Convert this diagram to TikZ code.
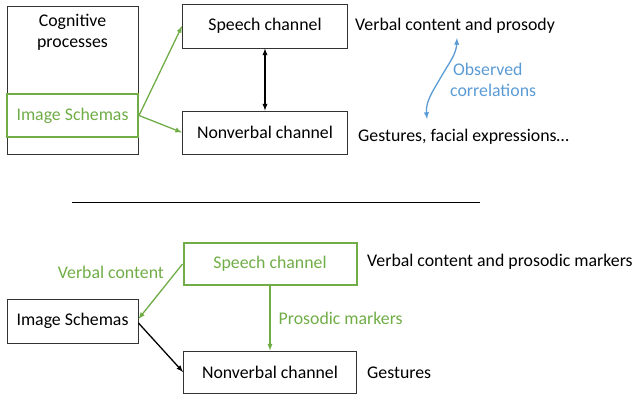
\documentclass[tikz,border=0pt]{standalone}
\usepackage{fontspec}
\setmainfont{Carlito}
\usepackage{tikz}
\tikzset{>=latex}
\usetikzlibrary{arrows,calc}

\definecolor{schemagreen}{RGB}{112,173,71}
\definecolor{corrblue}{RGB}{91,155,213}

\tikzset{
    chbox/.style={draw=black!80, line width=0.9pt, rectangle, inner sep=0pt},
    grbox/.style={draw=schemagreen, line width=2pt, rectangle, inner sep=0pt, text=schemagreen},
    grarrow/.style={->, draw=schemagreen, line width=1.3pt},
    bkarrow/.style={->, draw=black, line width=1.3pt},
    lbl/.style={inner sep=0pt, anchor=west}
}

\begin{document}
\begin{tikzpicture}[x=1pt, y=-1pt, font=\fontsize{17.8}{21}\selectfont]
                \useasboundingbox (0,0) rectangle (636,396);

                % upper half
                \node[chbox, minimum width=131pt, minimum height=148pt] (cogp) at (72.5,80) {};
                \node[align=center] (cogtxt) at (72.5,32) {Cognitive\\processes};
                \node[grbox, minimum width=131pt, minimum height=43pt] (isch) at (72.5,115.5) {Image Schemas};
                \node[chbox, minimum width=165pt, minimum height=44pt] (spch) at (265,26) {Speech channel};
                \node[chbox, minimum width=165pt, minimum height=43pt] (nvch) at (265,132.5) {Nonverbal channel};

                \draw[grarrow] (isch.east) -- (spch.west);
                \draw[grarrow] (isch.east) -- (nvch.west);
                \draw[<->, line width=1.3pt] (spch.south) -- (nvch.north);

                \node[lbl] (verbp) at (355,26) {Verbal content and prosody};
                \node[lbl] (gest) at (358,137) {Gestures, facial expressions…};

                \coordinate (obsT) at (457,38);
                \coordinate (obsB) at (427,119);
                \draw[<->, draw=corrblue, line width=1.3pt] (obsT) to[out=-93,in=60] (441,77) to[out=-120,in=95] (obsB);
                \node[lbl, align=left, text=corrblue] (obs) at (450,80) {\,Observed\\correlations};

                % separator
                \coordinate (sepL) at (72,202);
                \coordinate (sepR) at (480,202);
                \draw[line width=1pt] (sepL) -- (sepR);

                % lower half
                \node[grbox, minimum width=173pt, minimum height=42pt] (spch2) at (270,264) {Speech channel};
                \node[chbox, minimum width=131pt, minimum height=44pt] (isch2) at (72.5,321) {Image Schemas};
                \node[chbox, minimum width=173pt, minimum height=42pt] (nvch2) at (270,372) {Nonverbal channel};

                \draw[grarrow] (spch2.west) -- ([yshift=2pt]isch2.east)
                    node[pos=0.15, anchor=east, xshift=-8pt, text=schemagreen] {Verbal content};
                \draw[bkarrow] ([yshift=-2pt]isch2.east) -- (nvch2.west);
                \draw[grarrow] (spch2.south) -- (nvch2.north)
                    node[midway, lbl, xshift=8pt, text=schemagreen] {Prosodic markers};

                \node[lbl] (verbpm) at (367,262) {Verbal content and prosodic markers};
                \node[lbl] (gest2) at (367,373) {Gestures};
            \end{tikzpicture}
\end{document}
